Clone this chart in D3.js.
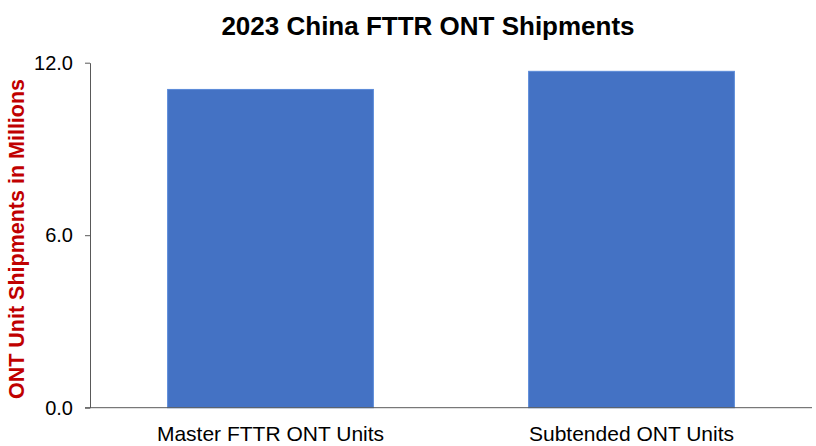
<!DOCTYPE html>
<html><head><meta charset="utf-8">
<script src="https://cdn.jsdelivr.net/npm/d3@7"></script>
<style>body{margin:0;background:#fff}svg{display:block}</style>
</head><body>
<svg id="c" width="816" height="446"></svg>
<script>
const categories = ["Master FTTR ONT Units", "Subtended ONT Units"];
const values = [11.07, 11.7];
const yTicks = [0, 6, 12];

const svg = d3.select("#c");
const font = "Liberation Sans, Arial, sans-serif";
const m = {left: 90, right: 4, top: 62.7, bottom: 38.3};
const W = 816, H = 446;
const x = d3.scaleBand().domain(categories).range([m.left, W - m.right]).paddingInner(0.43).paddingOuter(0.215);
const y = d3.scaleLinear().domain([0, 12]).range([H - m.bottom, m.top]);

svg.selectAll("rect.bar").data(values).join("rect")
  .attr("class", "bar")
  .attr("x", (d, i) => x(categories[i]))
  .attr("width", x.bandwidth())
  .attr("y", d => y(d))
  .attr("height", d => y(0) - y(d))
  .attr("fill", "#4472C4")
  .attr("stroke", "#5B8BD9")
  .attr("stroke-width", 1);

const ya = svg.append("g").attr("transform", `translate(${m.left},0)`)
  .call(d3.axisLeft(y).tickValues(yTicks).tickFormat(d3.format(".1f")).tickSize(5).tickSizeOuter(0));
ya.select(".domain").attr("stroke", "#595959");
ya.selectAll(".tick line").attr("stroke", "#595959");
ya.selectAll("text").attr("font-family", font).attr("font-size", 20).attr("fill", "#000").attr("x", -17);

const xa = svg.append("g").attr("transform", `translate(0,${y(0)})`)
  .call(d3.axisBottom(x).tickSize(0).tickSizeOuter(0));
xa.select(".domain").attr("stroke", "#595959").attr("d", `M${m.left - 5},0H${W - m.right}`);
xa.selectAll("text").attr("font-family", font).attr("font-size", 21).attr("fill", "#000").attr("dy", "1.45em");

svg.append("text").attr("x", 428).attr("y", 35).attr("text-anchor", "middle")
  .attr("font-family", font).attr("font-size", 26).attr("font-weight", "bold")
  .text("2023 China FTTR ONT Shipments");

svg.append("text").attr("transform", `translate(24,239) rotate(-90)`)
  .attr("text-anchor", "middle").attr("font-family", font).attr("font-size", 21.5)
  .attr("font-weight", "bold").attr("fill", "#C00000")
  .text("ONT Unit Shipments in Millions");
</script>
</body></html>
